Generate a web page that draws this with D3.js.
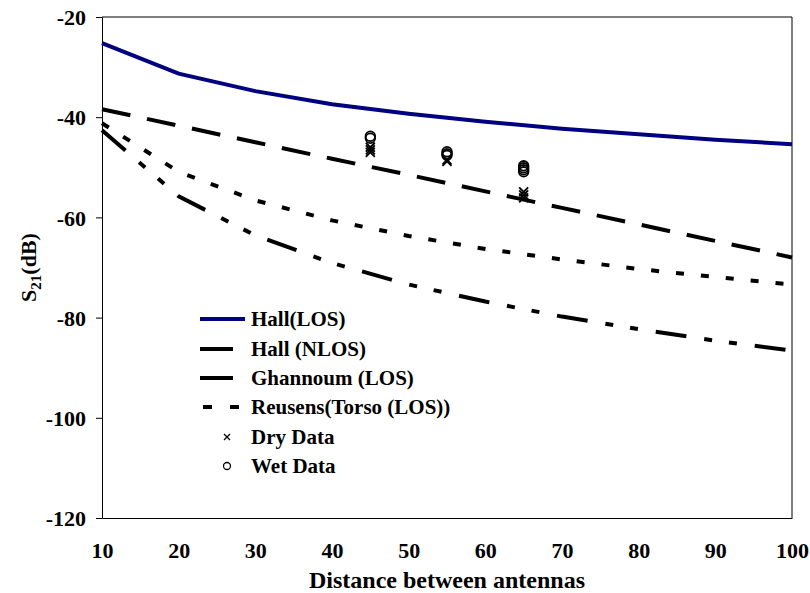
<!DOCTYPE html>
<html>
<head>
<meta charset="utf-8">
<script src="https://cdn.jsdelivr.net/npm/d3@7"></script>
<style>
  html, body { margin: 0; padding: 0; background: #fff; }
</style>
</head>
<body>
<svg id="chart" width="810" height="593"></svg>
<script>
// Distance between antennas (x) and path-loss model curves (S21 in dB)
const distances = [10, 20, 30, 40, 50, 60, 70, 80, 90, 100];
const hallLOS     = [-25.2, -31.3, -34.8, -37.4, -39.3, -40.9, -42.3, -43.4, -44.5, -45.4];
const hallNLOS    = [-38.4, -41.7, -45.0, -48.3, -51.5, -54.8, -58.1, -61.4, -64.7, -68.0];
const ghannoumLOS = [-42.6, -55.8, -63.6, -69.1, -73.4, -76.8, -79.8, -82.3, -84.6, -86.6];
const reusensLOS  = [-41.2, -50.9, -56.6, -60.6, -63.7, -66.3, -68.4, -70.3, -71.9, -73.4];

// Measured points
const dryX = [45, 45, 45, 55, 55, 65, 65, 65];
const dryY = [-46.0, -46.5, -47.0, -48.5, -48.8, -54.9, -55.5, -56.1];
const wetX = [45, 45, 55, 55, 55, 65, 65, 65, 65];
const wetY = [-43.8, -44.2, -46.9, -47.3, -47.6, -49.7, -50.1, -50.5, -50.9];

const xTicks = [10, 20, 30, 40, 50, 60, 70, 80, 90, 100];
const yTicks = [-120, -100, -80, -60, -40, -20];

const FONT = '"Liberation Serif", serif';

const svg = d3.select("#chart");
const x = d3.scaleLinear().domain([10, 100]).range([102, 792]);
const y = d3.scaleLinear().domain([-120, -20]).range([518, 17]);

function styleText(sel, size) {
  sel.attr("font-size", size)
    .attr("font-family", FONT)
    .attr("font-weight", "bold")
    .style("font-family", FONT)
    .style("font-weight", "bold")
    .style("fill", "#000");
}

// Plot frame (top and right)
svg.append("path")
  .attr("d", `M${x(10)},${y(-20)}H${x(100)}V${y(-120)}`)
  .attr("fill", "none").attr("stroke", "#000").attr("stroke-width", 1);

// Y axis
const yAxis = svg.append("g").attr("transform", `translate(${x(10)},0)`)
  .call(d3.axisLeft(y).tickValues(yTicks).tickSize(6).tickFormat(d => String(d)));
yAxis.attr("font-family", FONT);
yAxis.select(".domain").attr("stroke", "#000");
yAxis.selectAll("text").attr("x", -16).attr("dy", "0.35em").call(styleText, 22);

// X axis
const xAxis = svg.append("g").attr("transform", `translate(0,${y(-120)})`)
  .call(d3.axisBottom(x).tickValues(xTicks).tickSize(0).tickFormat(d => String(d)));
xAxis.attr("font-family", FONT);
xAxis.select(".domain").attr("stroke", "#000");
xAxis.selectAll("text").attr("y", 24).call(styleText, 22);

// Axis titles
svg.append("text").attr("x", x(55)).attr("y", 588).attr("text-anchor", "middle")
  .call(styleText, 24).text("Distance between antennas");
const yt = svg.append("text").attr("transform", `translate(36,${y(-70)}) rotate(-90)`)
  .attr("text-anchor", "middle").call(styleText, 22);
yt.append("tspan").text("S");
yt.append("tspan").attr("font-size", 15).attr("dy", 5).text("21");
yt.append("tspan").attr("dy", -5).text("(dB)");

// Curves
const series = [
  { name: "Hall(LOS)", values: hallLOS, color: "#000080", dash: null },
  { name: "Hall (NLOS)", values: hallNLOS, color: "#000", dash: "29,17" },
  { name: "Ghannoum (LOS)", values: ghannoumLOS, color: "#000", dash: "31,18,8,17,8,18" },
  { name: "Reusens(Torso (LOS))", values: reusensLOS, color: "#000", dash: "8,17" }
];
const line = d3.line().x(d => x(d[0])).y(d => y(d[1]));
series.forEach(s => {
  svg.append("path")
    .datum(distances.map((d, i) => [d, s.values[i]]))
    .attr("d", line)
    .attr("fill", "none")
    .attr("stroke", s.color)
    .attr("stroke-width", 4)
    .attr("stroke-dasharray", s.dash);
});

// Markers
const cross = r => `M${-r},${-r}L${r},${r}M${-r},${r}L${r},${-r}`;
svg.append("g").selectAll("path").data(dryX.map((d, i) => [d, dryY[i]])).join("path")
  .attr("transform", d => `translate(${x(d[0])},${y(d[1])})`)
  .attr("d", cross(4.5)).attr("stroke", "#000").attr("stroke-width", 1.8).attr("fill", "none");
svg.append("g").selectAll("circle").data(wetX.map((d, i) => [d, wetY[i]])).join("circle")
  .attr("cx", d => x(d[0])).attr("cy", d => y(d[1])).attr("r", 4.8)
  .attr("stroke", "#000").attr("stroke-width", 1.8).attr("fill", "none");

// Legend
const legend = svg.append("g");
const rowY = [319, 349, 378, 407, 437, 466];
series.forEach((s, i) => {
  legend.append("line")
    .attr("x1", 200).attr("x2", 245).attr("y1", rowY[i]).attr("y2", rowY[i])
    .attr("stroke", s.color).attr("stroke-width", 4)
    .attr("stroke-dasharray", i === 0 ? null : (i === 3 ? "9,18" : "33,30"))
    .attr("stroke-dashoffset", i === 3 ? -3 : 0);
  legend.append("text").attr("x", 251).attr("y", rowY[i]).attr("dy", "0.35em")
    .call(styleText, 21).text(s.name);
});
legend.append("path").attr("transform", `translate(227,${rowY[4]})`)
  .attr("d", cross(3)).attr("stroke", "#000").attr("stroke-width", 1.3).attr("fill", "none");
legend.append("text").attr("x", 251).attr("y", rowY[4]).attr("dy", "0.35em").call(styleText, 21).text("Dry Data");
legend.append("circle").attr("cx", 227).attr("cy", rowY[5]).attr("r", 3.5)
  .attr("stroke", "#000").attr("stroke-width", 1.3).attr("fill", "none");
legend.append("text").attr("x", 251).attr("y", rowY[5]).attr("dy", "0.35em").call(styleText, 21).text("Wet Data");
</script>
</body>
</html>
